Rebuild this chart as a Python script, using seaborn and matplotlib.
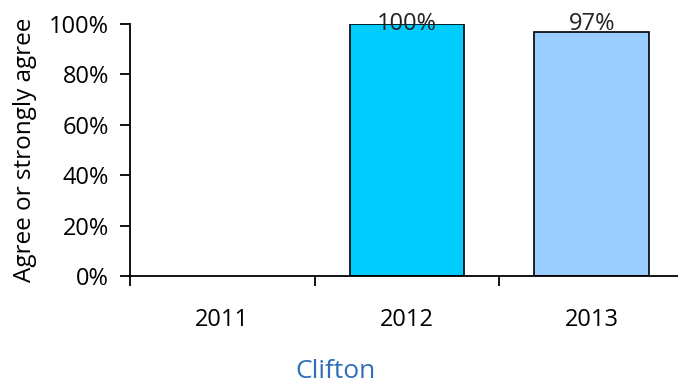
import matplotlib
matplotlib.use("Agg")
import matplotlib.pyplot as plt
import seaborn as sns
import numpy as np
import pandas as pd
from matplotlib.ticker import FixedLocator, PercentFormatter

# data
years = ["2011", "2012", "2013"]
agree_pct = [np.nan, 100, 97]
bar_colors = {"2011": "#ffffff", "2012": "#00ccff", "2013": "#99ccff"}
group_name = "Clifton"

df = pd.DataFrame({"year": years, "pct": agree_pct})

sns.set_style("white")
plt.rcParams["font.family"] = ["Open Sans", "DejaVu Sans"]
plt.rcParams["text.color"] = "black"
plt.rcParams["axes.labelcolor"] = "black"
plt.rcParams["xtick.color"] = "black"
plt.rcParams["ytick.color"] = "black"

fig = plt.figure(figsize=(6.78, 3.83), dpi=100)
ax = fig.add_axes([130 / 678, 107 / 383, 554 / 678, 252 / 383])

sns.barplot(data=df.dropna(), x="year", y="pct", hue="year", order=years,
            palette=bar_colors, legend=False, width=0.62, saturation=1,
            edgecolor="black", linewidth=1.2, ax=ax)

# value labels, kept inside the plot area like the original
for i, v in enumerate(agree_pct):
    if np.isnan(v):
        continue
    ax.text(i, min(v + 5, 100), f"{v:.0f}%", ha="center", va="center",
            fontsize=17, color="#222222", clip_on=False)

ax.set_xlim(-0.5, 2.5)
ax.set_ylim(0, 100)
ax.yaxis.set_major_locator(FixedLocator([0, 20, 40, 60, 80, 100]))
ax.yaxis.set_major_formatter(PercentFormatter(decimals=0))

ax.xaxis.set_minor_locator(FixedLocator([-0.5, 0.5, 1.5, 2.5]))
ax.tick_params(axis="x", which="major", length=0, pad=23, labelsize=17)
ax.tick_params(axis="x", which="minor", length=7, width=1.3, direction="out",
               bottom=True)
ax.tick_params(axis="y", length=7, width=1.3, direction="out", left=True,
               pad=8, labelsize=17)

for side in ["top", "right"]:
    ax.spines[side].set_visible(False)
for side in ["left", "bottom"]:
    ax.spines[side].set_color("black")
    ax.spines[side].set_linewidth(1.3)

ax.set_ylabel("Agree or strongly agree", fontsize=17.5, va="center")
ax.yaxis.set_label_coords(-0.19, 0.5)
ax.set_xlabel(group_name, fontsize=19, color="#2e6fb5", va="center")
ax.xaxis.set_label_coords(0.371, -0.377)

fig.savefig("out.png", dpi=100)
plt.close()
